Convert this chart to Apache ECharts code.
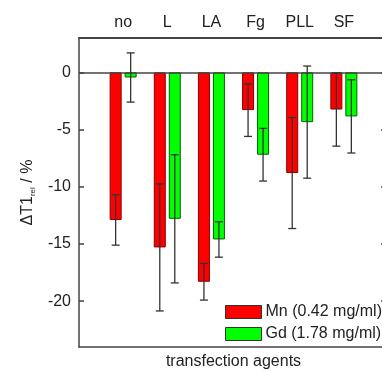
<!DOCTYPE html>
<html>
<head>
<meta charset="utf-8">
<script src="https://cdn.jsdelivr.net/npm/echarts@6/dist/echarts.min.js"></script>
<style>
  html, body { margin: 0; padding: 0; background: #fff; overflow: hidden; }
  #chart { width: 390px; height: 371px; }
</style>
</head>
<body>
<div id="chart"></div>
<script>
// categories (empty slots at both ends give the frame margin)
const categories = ["", "no", "L", "LA", "Fg", "PLL", "SF", ""];
const seriesNames = ["Mn (0.42 mg/ml)", "Gd (1.78 mg/ml)"];

// mean values, %
const mnValues = [null, -12.9, -15.3, -18.3, -3.3, -8.8, -3.25];
const gdValues = [null, -0.45, -12.8, -14.6, -7.2, -4.35, -3.85];

// errors (±)
const mnErrors = [null, 2.2, 5.55, 1.6, 2.3, 4.85, 3.2];
const gdErrors = [null, 2.15, 5.6, 1.55, 2.3, 4.9, 3.2];

const yTicks = [-20, -15, -10, -5, 0];

const font = "'Liberation Sans', Arial, sans-serif";
const textColor = "#222";
const lineColor = "#444";

const chart = echarts.init(document.getElementById("chart"));

// error bar data: [category index, value, error, side]
const errData = [];
mnValues.forEach((v, i) => { if (v !== null) errData.push([i, v, mnErrors[i], -1]); });
gdValues.forEach((v, i) => { if (v !== null) errData.push([i, v, gdErrors[i], 1]); });

const barOffset = 7.5;

const option = {
    backgroundColor: "#fff",
    textStyle: { fontFamily: font },
    animation: false,
    grid: { left: 79, right: 2, top: 38, bottom: 24, outerBoundsMode: "none", containLabel: false },
    legend: {
        data: seriesNames,
        orient: "vertical",
        left: 225,
        top: 304,
        itemWidth: 36,
        itemHeight: 13,
        itemGap: 6,
        icon: "rect",
        padding: 0,
        textStyle: { fontSize: 16, color: textColor, fontFamily: font, padding: [0, 0, 0, -1] },
        itemStyle: { borderColor: "#333", borderWidth: 1 },
    },
    xAxis: [
        {
            type: "category",
            data: categories,
            position: "bottom",
            boundaryGap: false,
            axisLine: { onZero: false, lineStyle: { color: lineColor, width: 1.5 } },
            axisTick: { show: false },
            axisLabel: { show: false },
            splitLine: { show: false },
            name: "transfection agents",
            nameLocation: "middle",
            nameGap: 7,
            nameTextStyle: { fontSize: 16, color: textColor, fontFamily: font },
        },
        {
            type: "category",
            data: categories,
            position: "top",
            boundaryGap: false,
            axisLine: { onZero: false, lineStyle: { color: lineColor, width: 2 } },
            axisTick: { show: false },
            axisLabel: { interval: 0, fontSize: 16, color: textColor, margin: 7, fontFamily: font },
            splitLine: { show: false },
        },
    ],
    yAxis: [
        {
            type: "value",
            min: -24,
            max: 3,
            position: "left",
            axisLine: { show: true, onZero: false, lineStyle: { color: lineColor, width: 1.5 } },
            axisTick: { show: true, inside: true, length: 5, customValues: yTicks, lineStyle: { color: lineColor, width: 1.5 } },
            axisLabel: { customValues: yTicks, fontSize: 16, color: textColor, margin: 8, fontFamily: font },
            splitLine: { show: false },
            name: "{a|ΔT1}{b|rel}{a| / %}",
            nameLocation: "middle",
            nameGap: 40,
            nameRotate: 90,
            nameTextStyle: {
                rich: {
                    a: { fontSize: 16, color: textColor, fontFamily: font, lineHeight: 18 },
                    b: { fontSize: 8, color: textColor, fontFamily: font, verticalAlign: "bottom", lineHeight: 12 },
                },
            },
        },
        {
            type: "value",
            min: -24,
            max: 3,
            position: "right",
            axisLine: { show: true, onZero: false, lineStyle: { color: lineColor, width: 1.5 } },
            axisTick: { show: true, inside: true, length: 7, customValues: yTicks, lineStyle: { color: lineColor, width: 1.5 } },
            axisLabel: { show: false },
            splitLine: { show: false },
        },
    ],
    series: [
        {
            name: seriesNames[0],
            type: "bar",
            xAxisIndex: 0,
            yAxisIndex: 0,
            data: mnValues.concat([null]),
            barWidth: 12,
            barGap: "25%",
            itemStyle: { color: "#ff0000", borderColor: "#8a0000", borderWidth: 1 },
            markLine: {
                silent: true,
                symbol: "none",
                label: { show: false },
                lineStyle: { color: lineColor, width: 1.5, type: "solid" },
                data: [{ yAxis: 0 }],
                z: 5,
            },
        },
        {
            name: seriesNames[1],
            type: "bar",
            xAxisIndex: 0,
            yAxisIndex: 0,
            data: gdValues.concat([null]),
            barWidth: 12,
            barGap: "25%",
            itemStyle: { color: "#00ff00", borderColor: "#006400", borderWidth: 1 },
        },
        {
            name: "errors",
            type: "custom",
            xAxisIndex: 0,
            yAxisIndex: 0,
            z: 10,
            data: errData,
            renderItem: (params, api) => {
                const idx = api.value(0);
                const v = api.value(1);
                const e = api.value(2);
                const side = api.value(3);
                const top = api.coord([idx, v + e]);
                const bot = api.coord([idx, v - e]);
                const x = top[0] + side * barOffset;
                const cap = 4;
                const style = { stroke: "#333", lineWidth: 1.3 };
                return {
                    type: "group",
                    children: [
                        { type: "line", shape: { x1: x, y1: top[1], x2: x, y2: bot[1] }, style },
                        { type: "line", shape: { x1: x - cap, y1: top[1], x2: x + cap, y2: top[1] }, style },
                        { type: "line", shape: { x1: x - cap, y1: bot[1], x2: x + cap, y2: bot[1] }, style },
                    ],
                };
            },
        },
    ],
};

chart.setOption(option);
</script>
</body>
</html>
